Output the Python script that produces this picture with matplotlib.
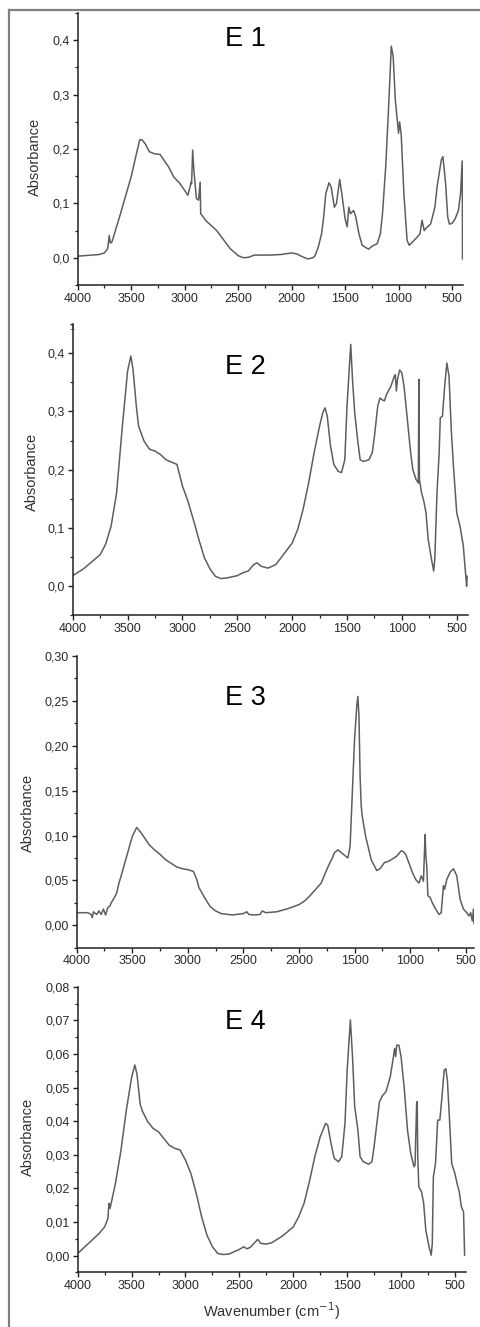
import matplotlib
matplotlib.use("Agg")
import matplotlib.pyplot as plt
from matplotlib.ticker import MultipleLocator, FuncFormatter
from matplotlib.lines import Line2D

plt.rcParams['font.family'] = ['Liberation Sans', 'DejaVu Sans']

# E 1
e1_wn = [4000, 3800, 3750, 3720, 3705, 3695, 3680, 3600, 3500, 3450, 3420, 3400, 3370, 3330,
         3280, 3230, 3150, 3100, 3050, 3000, 2970, 2950, 2940, 2935, 2925, 2915, 2890, 2870,
         2855, 2850, 2800, 2700, 2575, 2500, 2450, 2400, 2350, 2300, 2200, 2100, 2000, 1950,
         1900, 1850, 1800, 1780, 1750, 1720, 1700, 1680, 1650, 1630, 1600, 1580, 1560, 1550,
         1530, 1500, 1480, 1465, 1450, 1420, 1400, 1370, 1340, 1300, 1280, 1250, 1200, 1170,
         1150, 1120, 1100, 1080, 1068, 1050, 1030, 1000, 990, 975, 950, 920, 900, 870, 830,
         800, 780, 760, 740, 700, 660, 640, 600, 585, 560, 540, 525, 500, 470, 440, 420, 405,
         403, 402]
e1_ab = [0.003, 0.006, 0.009, 0.017, 0.041, 0.027, 0.029, 0.081, 0.149, 0.192, 0.217, 0.217,
         0.210, 0.195, 0.191, 0.190, 0.167, 0.148, 0.138, 0.124, 0.115, 0.130, 0.139, 0.136,
         0.198, 0.164, 0.109, 0.106, 0.139, 0.081, 0.068, 0.050, 0.017, 0.004, 0.000, 0.001,
         0.005, 0.005, 0.005, 0.006, 0.009, 0.007, 0.002, -0.002, 0.000, 0.004, 0.020, 0.044,
         0.075, 0.118, 0.138, 0.130, 0.093, 0.100, 0.130, 0.144, 0.117, 0.072, 0.057, 0.093,
         0.081, 0.087, 0.075, 0.044, 0.023, 0.018, 0.016, 0.021, 0.026, 0.044, 0.081, 0.167,
         0.247, 0.333, 0.389, 0.370, 0.290, 0.229, 0.250, 0.226, 0.118, 0.032, 0.023, 0.029,
         0.037, 0.044, 0.069, 0.050, 0.055, 0.062, 0.093, 0.130, 0.180, 0.186, 0.137, 0.075,
         0.062, 0.063, 0.072, 0.087, 0.118, 0.178, 0.100, -0.002]

# E 2
e2_wn = [4000, 3900, 3800, 3750, 3700, 3650, 3600, 3550, 3500, 3470, 3450, 3420, 3400, 3350,
         3300, 3250, 3200, 3150, 3100, 3050, 3000, 2950, 2900, 2850, 2800, 2750, 2700, 2650,
         2600, 2550, 2500, 2450, 2400, 2350, 2320, 2280, 2220, 2150, 2100, 2000, 1950, 1900,
         1850, 1800, 1750, 1720, 1700, 1680, 1650, 1620, 1580, 1550, 1520, 1500, 1466, 1450,
         1430, 1400, 1380, 1350, 1300, 1270, 1250, 1220, 1200, 1180, 1160, 1140, 1100, 1070,
         1060, 1050, 1040, 1020, 1000, 980, 950, 920, 900, 870, 850, 845, 840, 820, 800, 780,
         760, 730, 710, 700, 680, 660, 650, 630, 610, 590, 570, 550, 530, 500, 470, 440, 410,
         405]
e2_ab = [0.018, 0.030, 0.046, 0.054, 0.072, 0.103, 0.160, 0.269, 0.369, 0.395, 0.372, 0.309,
         0.275, 0.249, 0.235, 0.232, 0.226, 0.217, 0.213, 0.209, 0.172, 0.146, 0.114, 0.080,
         0.049, 0.030, 0.017, 0.013, 0.014, 0.016, 0.018, 0.023, 0.026, 0.037, 0.040, 0.034,
         0.031, 0.037, 0.049, 0.074, 0.097, 0.132, 0.177, 0.229, 0.275, 0.298, 0.306, 0.292,
         0.240, 0.209, 0.197, 0.195, 0.217, 0.309, 0.415, 0.355, 0.298, 0.246, 0.217, 0.214,
         0.217, 0.229, 0.257, 0.309, 0.323, 0.320, 0.318, 0.329, 0.343, 0.360, 0.363, 0.335,
         0.355, 0.371, 0.366, 0.343, 0.286, 0.229, 0.200, 0.183, 0.177, 0.355, 0.183, 0.160,
         0.146, 0.126, 0.080, 0.046, 0.026, 0.046, 0.160, 0.229, 0.289, 0.292, 0.343, 0.383,
         0.360, 0.269, 0.206, 0.126, 0.103, 0.069, 0.000, 0.017]

# E 3
e3_wn = [4000, 3900, 3870, 3860, 3850, 3820, 3800, 3780, 3760, 3740, 3720, 3700, 3690, 3680,
         3660, 3640, 3620, 3600, 3550, 3500, 3460, 3420, 3350, 3300, 3250, 3200, 3100, 3050,
         3000, 2950, 2920, 2900, 2850, 2800, 2750, 2700, 2600, 2500, 2470, 2450, 2400, 2350,
         2330, 2300, 2200, 2100, 2000, 1950, 1900, 1850, 1800, 1750, 1720, 1700, 1680, 1650,
         1620, 1580, 1560, 1540, 1520, 1500, 1480, 1470, 1460, 1450, 1440, 1430, 1400, 1350,
         1300, 1270, 1230, 1200, 1170, 1120, 1080, 1060, 1040, 1000, 980, 950, 920, 900, 880,
         870, 865, 858, 850, 840, 820, 800, 770, 740, 720, 700, 690, 670, 640, 610, 580, 550,
         520, 490, 470, 455, 440, 430, 425]
e3_ab = [0.014, 0.014, 0.012, 0.0085, 0.015, 0.012, 0.016, 0.012, 0.018, 0.0115, 0.0196,
         0.0215, 0.025, 0.027, 0.031, 0.036, 0.047, 0.055, 0.077, 0.099, 0.109, 0.103, 0.090,
         0.084, 0.079, 0.073, 0.065, 0.063, 0.062, 0.060, 0.051, 0.042, 0.031, 0.021, 0.016,
         0.013, 0.0115, 0.013, 0.015, 0.012, 0.0115, 0.012, 0.016, 0.014, 0.015, 0.0185,
         0.023, 0.027, 0.033, 0.040, 0.047, 0.062, 0.070, 0.075, 0.081, 0.084, 0.081, 0.077,
         0.075, 0.088, 0.147, 0.207, 0.244, 0.255, 0.233, 0.166, 0.133, 0.121, 0.099, 0.073,
         0.061, 0.063, 0.070, 0.071, 0.073, 0.077, 0.083, 0.082, 0.079, 0.066, 0.059, 0.051,
         0.047, 0.055, 0.049, 0.084, 0.101, 0.077, 0.066, 0.033, 0.031, 0.025, 0.018, 0.012,
         0.014, 0.044, 0.040, 0.051, 0.059, 0.063, 0.055, 0.029, 0.018, 0.014, 0.0104, 0.014,
         0.0048, 0.018, 0.002]

# E 4
e4_wn = [4000, 3900, 3800, 3750, 3720, 3710, 3700, 3650, 3600, 3550, 3500, 3470, 3450, 3420,
         3400, 3350, 3300, 3250, 3200, 3150, 3100, 3050, 3000, 2950, 2900, 2850, 2800, 2750,
         2700, 2650, 2600, 2550, 2500, 2460, 2430, 2400, 2350, 2330, 2300, 2250, 2200, 2100,
         2000, 1950, 1900, 1850, 1800, 1750, 1700, 1680, 1650, 1620, 1580, 1550, 1520, 1500,
         1470, 1450, 1430, 1400, 1380, 1350, 1300, 1270, 1250, 1200, 1170, 1140, 1100, 1070,
         1060, 1050, 1040, 1020, 1000, 970, 940, 910, 880, 870, 855, 850, 845, 835, 810, 790,
         770, 740, 720, 710, 700, 680, 660, 640, 620, 600, 585, 570, 550, 530, 500, 480, 460,
         440, 420, 410]
e4_ab = [0.0006, 0.0036, 0.0066, 0.0085, 0.011, 0.0155, 0.014, 0.0214, 0.031, 0.043, 0.053,
         0.0567, 0.054, 0.045, 0.043, 0.0398, 0.0378, 0.0368, 0.0348, 0.0328, 0.0319, 0.0314,
         0.0284, 0.0244, 0.0185, 0.0115, 0.006, 0.0026, 0.0006, 0.0003, 0.0004, 0.0011,
         0.0018, 0.0026, 0.002, 0.0024, 0.0041, 0.0048, 0.0036, 0.0034, 0.0038, 0.0058,
         0.0085, 0.0115, 0.0155, 0.022, 0.0294, 0.0353, 0.0393, 0.0388, 0.0334, 0.0289,
         0.0279, 0.0294, 0.0393, 0.0551, 0.0701, 0.0591, 0.0443, 0.0373, 0.0294, 0.0279,
         0.0272, 0.0279, 0.0324, 0.0458, 0.0477, 0.0487, 0.0532, 0.0592, 0.0616, 0.0592,
         0.0626, 0.0626, 0.0592, 0.0497, 0.0373, 0.0304, 0.0264, 0.027, 0.0453, 0.0458,
         0.0294, 0.0204, 0.019, 0.0155, 0.0075, 0.0026, 0.0001, 0.0036, 0.0234, 0.0274,
         0.0403, 0.0403, 0.0472, 0.0551, 0.0556, 0.0522, 0.0403, 0.0274, 0.0244, 0.0214,
         0.019, 0.0145, 0.013, 0.0001]

labels = ["E 1", "E 2", "E 3", "E 4"]
spectra = [(e1_wn, e1_ab), (e2_wn, e2_ab), (e3_wn, e3_ab), (e4_wn, e4_ab)]
ylims = [(-0.05, 0.45), (-0.05, 0.45), (-0.025, 0.30), (-0.005, 0.08)]
ymajor = [0.1, 0.1, 0.05, 0.01]
ydec = [1, 1, 2, 2]
xright = [400, 400, 425, 400]

W, H = 481, 1327
# axes boxes in pixels: left, right, top, bottom
boxes = [(77.7, 462.7, 13, 285), (72.7, 467.7, 324, 615.3),
         (76.7, 474, 656, 947.7), (77.7, 465.7, 986.7, 1272.3)]
title_y = [39, 367, 698, 1022]
ylab_pos = [(35, 157), (32, 472), (28, 813), (28, 1137)]

fig = plt.figure(figsize=(W / 100, H / 100), dpi=100)

for i in range(4):
    l, r, t, b = boxes[i]
    ax = fig.add_axes([l / W, 1 - b / H, (r - l) / W, (b - t) / H])
    wn, ab = spectra[i]
    ax.plot(wn, ab, color='#5e5e5e', lw=1.1)
    ax.set_xlim(4000, xright[i])
    ax.set_ylim(*ylims[i])
    ax.spines['top'].set_visible(False)
    ax.spines['right'].set_visible(False)
    for s in ('left', 'bottom'):
        ax.spines[s].set_linewidth(1.1)
        ax.spines[s].set_color('#222222')
    ax.xaxis.set_major_locator(MultipleLocator(500))
    ax.xaxis.set_minor_locator(MultipleLocator(250))
    ax.yaxis.set_major_locator(MultipleLocator(ymajor[i]))
    ax.yaxis.set_minor_locator(MultipleLocator(ymajor[i] / 2))
    d = ydec[i]
    ax.yaxis.set_major_formatter(FuncFormatter(lambda v, p, d=d: f"{v:.{d}f}".replace('.', ',')))
    ax.tick_params(which='major', length=3.5, width=1, color='#222222', labelsize=9,
                   labelcolor='#2a2a2a', pad=2)
    ax.tick_params(which='minor', length=2.5, width=0.9, color='#222222')
    fig.text(245 / W, 1 - title_y[i] / H, labels[i], ha='center', va='center', fontsize=19.5)
    xl, yl = ylab_pos[i]
    fig.text(xl / W, 1 - yl / H, "Absorbance", rotation=90, ha='center', va='center',
             fontsize=10.5, color='#333333')
    if i == 3:
        ax.set_xlabel("Wavenumber (cm$^{-1}$)", fontsize=10.5, color='#333333', labelpad=6)

# outer frame
fig.add_artist(Line2D([9 / W, 9 / W], [0, 1 - 10 / H], transform=fig.transFigure,
                      color='#808080', lw=1.6))
fig.add_artist(Line2D([9 / W, 1], [1 - 10 / H, 1 - 10 / H], transform=fig.transFigure,
                      color='#808080', lw=1.6))
fig.text(72 / W, 1 - 328 / H, "1", fontsize=6.5, ha='center', va='center', color='#333333')

fig.savefig("out.png", dpi=100)
